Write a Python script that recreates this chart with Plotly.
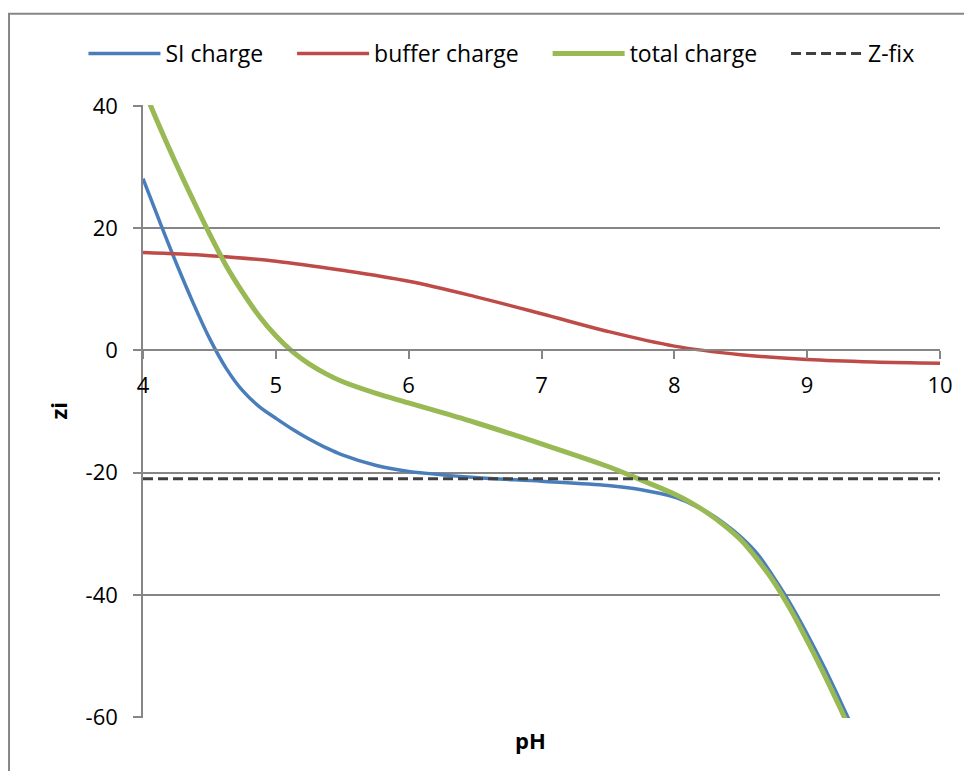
import plotly.graph_objects as go

# pH grid
ph = [4.0, 4.125, 4.25, 4.375, 4.5, 4.625, 4.75, 4.875, 5.0, 5.125, 5.25, 5.375,
      5.5, 5.75, 6.0, 6.5, 7.0, 7.5, 7.75, 8.0, 8.125, 8.25, 8.375, 8.5, 8.625,
      8.75, 8.875, 9.0, 9.125, 9.25, 9.375]
si_charge = [28.1, 21.1, 14.3, 7.9, 2.0, -2.9, -6.6, -9.2, -11.1, -12.9, -14.5, -15.9,
             -17.1, -18.8, -19.8, -20.8, -21.4, -22.1, -22.8, -24.0, -25.1, -26.5, -28.3,
             -30.5, -33.3, -37.2, -41.5, -46.4, -51.7, -57.4, -63.3]
total_charge = [43.0, 36.6, 30.5, 24.7, 19.1, 13.9, 9.5, 5.6, 2.4, -0.2, -2.2, -3.8,
                -5.1, -7.0, -8.6, -11.8, -15.3, -19.0, -21.2, -23.5, -24.9, -26.6, -28.6,
                -31.0, -34.2, -37.9, -42.4, -47.5, -52.9, -58.6, -64.5]

ph_buffer = [4.0, 4.5, 5.0, 5.5, 6.0, 6.5, 7.0, 7.5, 8.0, 8.5, 9.0, 9.5, 10.0]
buffer_charge = [16.0, 15.5, 14.6, 13.1, 11.3, 8.8, 6.0, 3.1, 0.7, -0.7, -1.5, -1.9, -2.1]

ph_fix = [4.0, 10.0]
z_fix = [-21.0, -21.0]

x_ticks = [4, 5, 6, 7, 8, 9, 10]
y_ticks = [-60, -40, -20, 0, 20, 40]
y_labels = ['-60', '-40', '-20', '0', '20', '40']

FONT = 'Open Sans'
GRID = '#868686'
PAD = '\u00a0' * 4

fig = go.Figure()

fig.add_trace(go.Scatter(x=ph, y=si_charge, mode='lines', name='SI charge' + PAD,
                         line=dict(color='#4A7EBB', width=3.5, shape='spline')))
fig.add_trace(go.Scatter(x=ph_buffer, y=buffer_charge, mode='lines', name='buffer charge' + PAD,
                         line=dict(color='#BE4B48', width=3.5, shape='spline')))
fig.add_trace(go.Scatter(x=ph, y=total_charge, mode='lines', name='total charge' + PAD,
                         line=dict(color='#98B954', width=5, shape='spline')))
fig.add_trace(go.Scatter(x=ph_fix, y=z_fix, mode='lines', name='Z-fix',
                         line=dict(color='#404040', width=3, dash='10px,5px')))

# page body has an 8px margin, so the figure is sized to fit inside the window
fig.update_layout(
    width=956, height=763,
    paper_bgcolor='white', plot_bgcolor='white',
    margin=dict(l=135, r=24, t=97, b=53, autoexpand=False),
    font=dict(family=FONT, size=22, color='black'),
    showlegend=True,
    legend=dict(orientation='h', x=-0.0747, xanchor='left', y=1.084, yanchor='middle',
                font=dict(size=23), itemwidth=72, bgcolor='rgba(0,0,0,0)'),
    xaxis=dict(range=[4, 10], tickvals=x_ticks, showgrid=False, zeroline=False,
               showline=True, linecolor=GRID, linewidth=1.5,
               ticks='outside', ticklen=8, tickcolor=GRID, tickwidth=1.5,
               anchor='free', position=0.5997, ticklabelstandoff=7),
    yaxis=dict(range=[-60.15, 40.15], tickvals=y_ticks, ticktext=y_labels,
               showgrid=True, gridcolor=GRID,
               gridwidth=1.5, zeroline=False, showline=True, linecolor=GRID,
               linewidth=1.5, ticks='outside', ticklen=8, tickcolor=GRID,
               tickwidth=1.5, ticklabelstandoff=11),
    annotations=[
        dict(text='<b>zi</b>', x=0, y=0.5, xref='paper', yref='paper', xshift=-86,
             xanchor='center', yanchor='middle',
             showarrow=False, textangle=-90, font=dict(size=22)),
        dict(text='<b>pH</b>', x=0.4856, y=0, xref='paper', yref='paper', yshift=-22,
             xanchor='center', yanchor='middle',
             showarrow=False, font=dict(size=22)),
    ],
    shapes=[
        dict(type='rect', xref='paper', yref='paper', x0=-0.1681, y0=-0.3,
             x1=1.2, y1=1.149, line=dict(color=GRID, width=2), layer='below'),
    ],
)

fig.write_html("out.html")
